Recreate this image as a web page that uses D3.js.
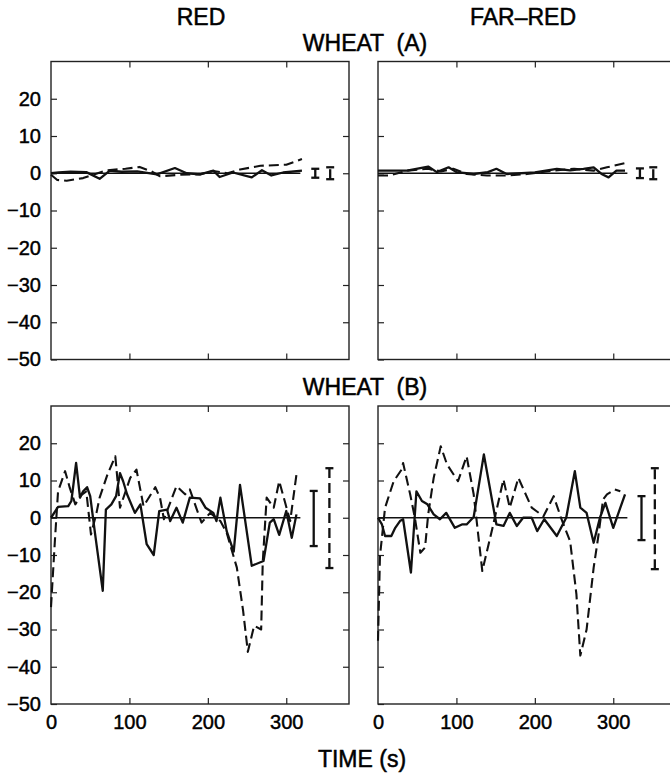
<!DOCTYPE html>
<html>
<head>
<meta charset="utf-8">
<script src="https://cdn.jsdelivr.net/npm/d3@7"></script>
<style>
  body { margin: 0; background: #fff; }
  svg { display: block; font-family: "Liberation Sans", Arial, sans-serif; }
</style>
</head>
<body>
<div id="chart"></div>
<script>
// Axis ticks
const timeTicks = [0, 100, 200, 300];
const valueTicks = [20, 10, 0, -10, -20, -30, -40, -50];
const baselineSpan = [0, 318];

// WHEAT (A), RED light: [time s, value]
const redA_solid = [[0,0],[10,0.2],[25,0.4],[45,0.3],[62,-1.5],[75,0.7],[90,0.4],[110,0.5],[135,-0.3],[158,1.4],[173,0],[190,-0.3],[207,0.7],[215,-1],[232,0.2],[256,-1.1],[269,0.8],[281,-0.6],[296,0.2],[320,0.7]];
const redA_dashed = [[0,-0.4],[8,-1.8],[20,-2],[41,-1.3],[71,0.8],[95,1.2],[113,1.7],[128,0.5],[139,-0.8],[165,-0.4],[190,-0.3],[207,0.6],[225,0],[241,1],[267,2],[300,2.3],[320,3.8]];

// WHEAT (A), FAR-RED light
const farA_solid = [[0,0.7],[37,0.7],[64,1.8],[75,0.3],[90,1.6],[100,0.3],[122,-0.2],[140,0.3],[151,1.2],[164,-0.2],[200,0.2],[228,1.2],[245,0.8],[262,1.2],[275,1.6],[285,-0.2],[294,-1.1],[304,0.7],[315,0.7]];
const farA_dashed = [[0,-0.6],[15,-0.6],[37,0.7],[64,1.2],[80,0.5],[96,1.2],[113,-0.2],[139,-0.6],[165,-0.6],[190,-0.2],[224,0.7],[250,1.2],[275,0.7],[292,1.6],[315,2.7]];

// WHEAT (B), RED light
const redB_solid = [[0,0],[9,2.9],[22,3.1],[26,4.5],[32,14.7],[37,5.4],[41,7.1],[46,8.2],[50,5.8],[56,-4],[66,-19.6],[70,2.2],[77,3.6],[83,5.8],[88,12],[92,9.8],[97,6.3],[107,1.3],[114,3.6],[122,-7.1],[131,-10],[138,1.8],[148,2.2],[152,-0.9],[160,2.7],[168,-1.3],[177,5.4],[190,5.2],[197,2.7],[207,1.3],[211,-0.9],[216,5.4],[224,-3.6],[233,-9.1],[241,8.8],[256,-12.9],[271,-11.6],[279,-1.3],[284,-0.4],[291,-4.6],[300,1.8],[307,-5.4],[313,0.9]];
const redB_dashed = [[0,-24],[5,-6],[9,7.1],[18,12.5],[24,8],[31,3.6],[38,6],[45,7.1],[51,-4.5],[58,1.3],[62,5.4],[72,11.6],[82,16.5],[88,2.7],[101,10.7],[109,12.9],[118,3.1],[133,8.2],[139,5.4],[144,-0.4],[160,8.5],[171,6.3],[177,7.6],[186,2.2],[192,-1.3],[203,1.3],[216,-0.9],[224,-4],[237,-13.4],[245,-25],[251,-36],[259,-29],[268,-30],[270,-12],[275,5.4],[284,2.7],[291,9.8],[298,4.5],[305,-0.9],[313,11.6]];

// WHEAT (B), FAR-RED light
const farB_solid = [[0,0],[5,-1.8],[9,-4.9],[17,-4.9],[22,-2.7],[28,-0.9],[32,-0.4],[42,-14.7],[49,7.1],[56,4.5],[63,3.6],[71,0.9],[79,-0.4],[87,1.3],[98,-2.7],[107,-1.8],[113,-1.8],[122,0.2],[135,17],[151,-1.8],[160,-2.2],[168,1.3],[177,-2.2],[185,0],[196,0],[203,-3.6],[212,-0.4],[228,-4.9],[240,0],[251,12.5],[258,2.7],[266,1.3],[275,-6.7],[283,0],[290,4],[300,-2.7],[315,6.3]];
const farB_dashed = [[0,-33],[2.5,-10.3],[9,2.7],[20,9.8],[30,12.9],[32,14.7],[41,6.3],[47,0],[54,-9.4],[60,-8],[64,0.9],[71,10.7],[80,19.2],[88,14.3],[102,9.8],[113,16.5],[122,6.3],[133,-14.3],[147,-1.8],[160,10.3],[168,2.7],[179,10.7],[196,2.7],[211,0.4],[224,5.8],[234,-0.4],[245,-6.3],[253,-20.5],[258,-37],[266,-30],[275,-13.4],[281,-4.9],[287,4.9],[292,6.3],[302,7.6],[309,7.1]];

// error bars: [time, low, high]
const redA_errSolid = [337, -1.2, 1.2], redA_errDashed = [356, -1.6, 1.6];
const farA_errSolid = [334, -1.3, 1.3], farA_errDashed = [351, -1.6, 1.6];
const redB_errSolid = [335, -7.6, 7.2], redB_errDashed = [355, -13.5, 13.3];
const farB_errSolid = [336, -6, 5.8], farB_errDashed = [353, -13.8, 13.3];

const W = 670, H = 773;
const pw = 298, ph = 298;
const dash = "10,5";

const svg = d3.select("#chart").append("svg")
    .attr("width", W)
    .attr("height", H);

const x = d3.scaleLinear().domain([0, 380]).range([0, pw]);
const y = d3.scaleLinear().domain([-50, 30]).range([ph, 0]);

function drawPanel(left, top, solid, dashed, errSolid, errDashed, showY, showX) {
    const g = svg.append("g").attr("transform", "translate(" + left + "," + top + ")");

    // inward ticks on all four sides
    const yl = g.append("g").call(d3.axisLeft(y).tickValues(valueTicks).tickSizeInner(-6).tickSizeOuter(0).tickPadding(10));
    const yr = g.append("g").attr("transform", "translate(" + pw + ",0)")
        .call(d3.axisRight(y).tickValues(valueTicks.slice(0, -1)).tickSizeInner(-6).tickSizeOuter(0).tickFormat(""));
    const xt = g.append("g").call(d3.axisTop(x).tickValues(timeTicks.slice(1)).tickSizeInner(-6).tickSizeOuter(0).tickFormat(""));
    const xb = g.append("g").attr("transform", "translate(0," + ph + ")")
        .call(d3.axisBottom(x).tickValues(timeTicks).tickSizeInner(-6).tickSizeOuter(0).tickPadding(11));

    [yl, yr, xt, xb].forEach(a => {
        a.select(".domain").remove();
        a.selectAll("line").attr("stroke", "#222").attr("stroke-width", 1.2);
        a.selectAll("text")
            .attr("fill", "#000").attr("stroke", "#000").attr("stroke-width", 0.45)
            .style("font-size", "20px");
    });
    if (!showY) yl.selectAll("text").remove();
    if (!showX) xb.selectAll("text").remove();
    xb.selectAll(".tick").filter(d => d === 0).select("line").remove();

    // frame
    g.append("rect")
        .attr("width", pw).attr("height", ph)
        .attr("fill", "none").attr("stroke", "#222").attr("stroke-width", 1.4);

    // zero baseline
    g.append("line")
        .attr("x1", x(baselineSpan[0])).attr("x2", x(baselineSpan[1]))
        .attr("y1", y(0)).attr("y2", y(0))
        .attr("stroke", "#111").attr("stroke-width", 1.7);

    const line = d3.line().x(d => x(d[0])).y(d => y(d[1]));

    g.append("path").datum(dashed)
        .attr("d", line)
        .attr("fill", "none").attr("stroke", "#111").attr("stroke-width", 2.1)
        .attr("stroke-dasharray", dash).attr("stroke-linejoin", "round");

    g.append("path").datum(solid)
        .attr("d", line)
        .attr("fill", "none").attr("stroke", "#111").attr("stroke-width", 2.3)
        .attr("stroke-linejoin", "round");

    // error bars
    [[errSolid, null], [errDashed, dash]].forEach(([e, da]) => {
        const eb = g.append("g").attr("stroke", "#111").attr("stroke-width", 2.3);
        eb.append("line")
            .attr("x1", x(e[0])).attr("x2", x(e[0]))
            .attr("y1", y(e[1])).attr("y2", y(e[2]))
            .attr("stroke-dasharray", da);
        [e[1], e[2]].forEach(v => {
            eb.append("line")
                .attr("x1", x(e[0]) - 4).attr("x2", x(e[0]) + 4)
                .attr("y1", y(v)).attr("y2", y(v));
        });
    });
}

const leftX = 51, rightX = 378, topY = 61.5, botY = 406;

drawPanel(leftX, topY, redA_solid, redA_dashed, redA_errSolid, redA_errDashed, true, false);
drawPanel(rightX, topY, farA_solid, farA_dashed, farA_errSolid, farA_errDashed, false, false);
drawPanel(leftX, botY, redB_solid, redB_dashed, redB_errSolid, redB_errDashed, true, true);
drawPanel(rightX, botY, farB_solid, farB_dashed, farB_errSolid, farB_errDashed, false, true);

// titles
function label(txt, cx, by) {
    svg.append("text")
        .attr("x", cx).attr("y", by)
        .attr("text-anchor", "middle")
        .attr("fill", "#000").attr("stroke", "#000").attr("stroke-width", 0.5)
        .style("font-size", "23px")
        .style("white-space", "pre")
        .text(txt);
}
label("RED", 201, 25);
label("FAR\u2013RED", 523, 25);
label("WHEAT  (A)", 365, 51);
label("WHEAT  (B)", 365, 395);
label("TIME (s)", 362, 767);
</script>
</body>
</html>
